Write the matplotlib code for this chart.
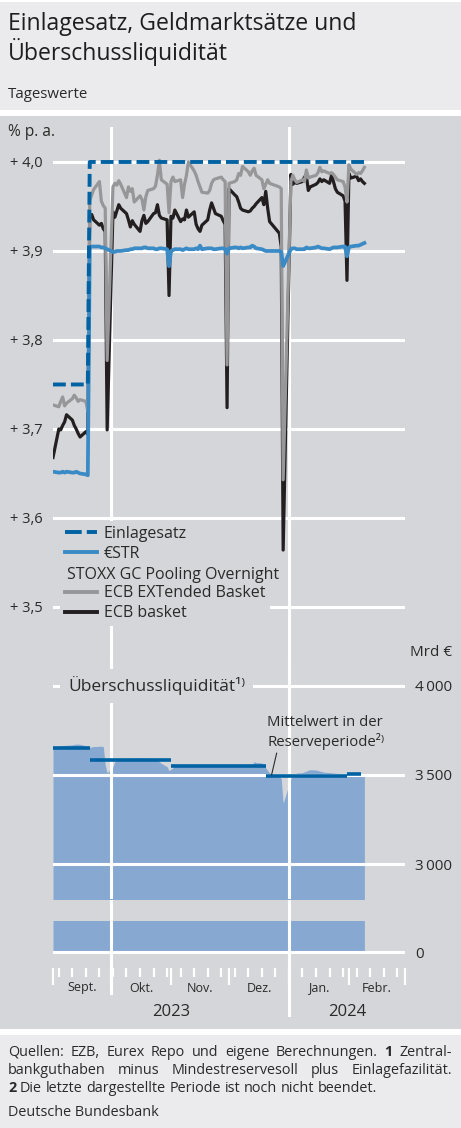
import matplotlib
matplotlib.use("Agg")
import matplotlib.pyplot as plt
import matplotlib.dates as mdates
import matplotlib.transforms as mtrans
from matplotlib.lines import Line2D
from matplotlib.patches import Rectangle
import pandas as pd

W, H = 461, 1128

# ---- data (TARGET business days Sep 1 2023 - Feb 9 2024) ----
holidays = ["2023-12-25", "2023-12-26", "2024-01-01"]

# ECB EXTended Basket, % p.a.
ext_sep = [3.727, 3.725, 3.731, 3.736, 3.726, 3.729, 3.734, 3.738, 3.735, 3.731, 3.733, 3.731, 3.720,
           3.957, 3.963, 3.969, 3.978, 3.956, 3.951, 3.948, 3.777]
ext_oct = [3.972, 3.976, 3.974, 3.979, 3.975, 3.960, 3.972, 3.967, 3.970, 3.955, 3.962, 3.958, 3.946,
           3.961, 3.968, 3.970, 3.973, 3.985, 4.002, 3.980, 3.975, 3.943]
ext_nov = [3.978, 3.983, 3.978, 3.980, 3.960, 3.975, 3.985, 4.000, 3.990, 3.985, 3.978, 3.972, 3.966,
           3.965, 3.968, 3.976, 3.980, 3.981, 3.983, 3.980, 3.978, 3.772]
ext_dec = [3.976, 3.978, 3.980, 3.987, 3.985, 3.995, 3.989, 3.985, 3.990, 3.993, 3.985, 3.980, 3.970,
           3.975, 3.980, 3.976, 3.972, 3.970, 3.643]
ext_jan = [3.978, 3.985, 3.980, 3.977, 3.980, 3.978, 3.991, 3.982, 3.983, 3.985, 3.988, 3.994, 3.989,
           3.990, 3.987, 3.988, 3.986, 3.983, 3.980, 3.978, 3.972, 3.955]
ext_feb = [3.997, 3.992, 3.986, 3.988, 3.987, 3.990, 3.994]

# ECB basket, % p.a.
bsk_sep = [3.668, 3.700, 3.699, 3.704, 3.708, 3.716, 3.710, 3.704, 3.700, 3.695, 3.691, 3.697, 3.694,
           3.939, 3.941, 3.935, 3.929, 3.931, 3.925, 3.922, 3.699]
bsk_oct = [3.944, 3.938, 3.945, 3.952, 3.948, 3.942, 3.935, 3.927, 3.934, 3.930, 3.922, 3.934, 3.940,
           3.931, 3.933, 3.942, 3.943, 3.952, 3.940, 3.937, 3.935, 3.850]
bsk_nov = [3.939, 3.937, 3.946, 3.933, 3.936, 3.935, 3.946, 3.938, 3.944, 3.930, 3.925, 3.922, 3.929,
           3.935, 3.946, 3.954, 3.948, 3.942, 3.939, 3.934, 3.930, 3.724]
bsk_dec = [3.970, 3.963, 3.961, 3.955, 3.948, 3.946, 3.944, 3.945, 3.948, 3.950, 3.953, 3.960, 3.952,
           3.967, 3.948, 3.933, 3.920, 3.905, 3.564]
bsk_jan = [3.986, 3.975, 3.977, 3.976, 3.978, 3.983, 3.985, 3.968, 3.972, 3.975, 3.977, 3.981, 3.978,
           3.980, 3.976, 3.985, 3.978, 3.970, 3.966, 3.962, 3.956, 3.867]
bsk_feb = [3.987, 3.982, 3.984, 3.979, 3.981, 3.978, 3.976]

# €STR, % p.a.
estr_sep = [3.652, 3.651, 3.651, 3.652, 3.651, 3.652, 3.651, 3.651, 3.652, 3.651, 3.650, 3.649, 3.648,
            3.904, 3.905, 3.905, 3.905, 3.904, 3.904, 3.903, 3.902]
estr_oct = [3.899, 3.899, 3.900, 3.900, 3.900, 3.901, 3.901, 3.902, 3.902, 3.903, 3.903, 3.903, 3.904,
            3.904, 3.903, 3.903, 3.902, 3.902, 3.903, 3.903, 3.902, 3.883]
estr_nov = [3.900, 3.901, 3.902, 3.902, 3.901, 3.902, 3.903, 3.902, 3.902, 3.903, 3.902, 3.906, 3.902,
            3.903, 3.903, 3.903, 3.902, 3.902, 3.903, 3.903, 3.902, 3.897]
estr_dec = [3.903, 3.904, 3.904, 3.903, 3.904, 3.903, 3.904, 3.904, 3.906, 3.905, 3.903, 3.902, 3.901,
            3.900, 3.900, 3.900, 3.900, 3.899, 3.883]
estr_jan = [3.902, 3.903, 3.903, 3.902, 3.902, 3.902, 3.904, 3.903, 3.903, 3.904, 3.905, 3.904, 3.903,
            3.903, 3.902, 3.903, 3.904, 3.904, 3.904, 3.905, 3.905, 3.894]
estr_feb = [3.904, 3.905, 3.906, 3.906, 3.907, 3.908, 3.909]

# Einlagesatz (deposit facility rate)
einlage_dates = ["2023-09-01", "2023-09-19", "2023-09-20", "2024-02-09"]
einlage_vals = [3.75, 3.75, 4.00, 4.00]

# Überschussliquidität, Mrd €
liq_sep = [3659, 3661, 3663, 3665, 3666, 3667, 3669, 3672, 3673, 3674, 3672, 3664, 3652,
           3655, 3658, 3660, 3661, 3662, 3660, 3556, 3511]
liq_oct = [3547, 3575, 3582, 3585, 3588, 3590, 3591, 3592, 3593, 3594, 3596, 3595, 3594,
           3594, 3593, 3590, 3588, 3583, 3575, 3565, 3547, 3524]
liq_nov = [3532, 3540, 3550, 3551, 3552, 3552, 3551, 3550, 3548, 3549, 3550, 3550, 3549,
           3548, 3547, 3548, 3550, 3551, 3552, 3552, 3552, 3551]
liq_dec = [3552, 3553, 3553, 3554, 3555, 3556, 3557, 3558, 3560, 3575, 3570, 3568, 3557,
           3540, 3525, 3511, 3491, 3480, 3341]
liq_jan = [3480, 3500, 3505, 3511, 3513, 3518, 3522, 3527, 3530, 3528, 3525, 3522, 3520,
           3516, 3514, 3512, 3511, 3510, 3509, 3508, 3505, 3500]
liq_feb = [3503, 3504, 3501, 3499, 3496, 3494, 3491]

# mean per reserve maintenance period
per_start = ["2023-09-01", "2023-09-20", "2023-11-01", "2023-12-20", "2024-01-31"]
per_end = ["2023-09-20", "2023-11-01", "2023-12-20", "2024-01-31", "2024-02-07"]
per_mean = [3654, 3584, 3550, 3494, 3505]

rate_ticks = [3.5, 3.6, 3.7, 3.8, 3.9, 4.0]
rate_labels = ["+ 3,5", "+ 3,6", "+ 3,7", "+ 3,8", "+ 3,9", "+ 4,0"]
liq_ticks = [3000, 3500, 4000]
liq_labels = ["3\u2009000", "3\u2009500", "4\u2009000"]
months = ["Sept.", "Okt.", "Nov.", "Dez.", "Jan.", "Febr."]
month_starts = ["2023-09-01", "2023-10-01", "2023-11-01", "2023-12-01", "2024-01-01", "2024-02-01", "2024-03-01"]

# ---- build series ----
days = pd.bdate_range("2023-09-01", "2024-02-09")
days = days[~days.isin(pd.to_datetime(holidays))]
ext = ext_sep + ext_oct + ext_nov + ext_dec + ext_jan + ext_feb
bsk = bsk_sep + bsk_oct + bsk_nov + bsk_dec + bsk_jan + bsk_feb
estr = estr_sep + estr_oct + estr_nov + estr_dec + estr_jan + estr_feb
liq = liq_sep + liq_oct + liq_nov + liq_dec + liq_jan + liq_feb

plt.rcParams['font.family'] = ['Open Sans', 'DejaVu Sans']

BG_LIGHT = '#ebebed'
BG_CHART = '#d5d6d9'
TXT = '#2a2a2a'
C_EZ = '#0062a3'
C_ESTR = '#3a8ac6'
C_EXT = '#97979a'
C_BSK = '#231f20'
C_AREA = '#87a9d1'
GRID = dict(color='white', lw=2.2)

x0, x1 = pd.Timestamp("2023-09-01"), pd.Timestamp("2024-03-01")
oct1, jan1 = pd.Timestamp("2023-10-01"), pd.Timestamp("2024-01-01")

fig = plt.figure(figsize=(W / 100, H / 100), dpi=100)


def box(px0, py0, px1, py1):
    return [px0 / W, 1 - py1 / H, (px1 - px0) / W, (py1 - py0) / H]


def fx(px):
    return px / W


def fy(py):
    return 1 - py / H


for y0, y1, c in [(2, 110, BG_LIGHT), (116, 1029, BG_CHART), (1035, 1128, BG_LIGHT)]:
    fig.patches.append(Rectangle((0, fy(y1)), 1, (y1 - y0) / H, transform=fig.transFigure,
                                 facecolor=c, edgecolor='none', zorder=-10))

# vertical grid lines running through the whole chart block
bg = fig.add_axes(box(53, 127, 405, 1017), zorder=0)
bg.axis('off')
bg.patch.set_visible(False)
bg.set_xlim(x0, x1)
bg.set_ylim(0, 1)
bg.axvline(oct1, ymin=(1017 - 993) / 890, **GRID)
bg.axvline(jan1, **GRID)

# ---- upper panel: rates ----
ax = fig.add_axes(box(53, 127, 405, 645), zorder=1)
ax.patch.set_visible(False)
for s in ax.spines.values():
    s.set_visible(False)
ax.set_xlim(x0, x1)
ax.set_ylim(3.4573, 4.0393)
for v in rate_ticks:
    ax.axhline(v, zorder=1, **GRID)
ax.plot(days, bsk, color=C_BSK, lw=2.3, zorder=3)
ax.plot(days, ext, color=C_EXT, lw=2.3, zorder=4)
ax.plot(days, estr, color=C_ESTR, lw=2.7, zorder=5)
ax.plot(pd.to_datetime(einlage_dates), einlage_vals, color=C_EZ, lw=2.8,
        ls=(0, (3.3, 1.3)), zorder=6)
ax.set_xticks([])
ax.set_yticks(rate_ticks)
ax.set_yticklabels(rate_labels)
ax.tick_params(axis='y', length=0, pad=7.2, labelsize=10.5, labelcolor=TXT)

handles = [Line2D([], [], color=C_EZ, lw=2.8, ls=(0, (4.3, 1.3))),
           Line2D([], [], color=C_ESTR, lw=2.8),
           Line2D([], [], lw=0),
           Line2D([], [], color=C_EXT, lw=2.8),
           Line2D([], [], color=C_BSK, lw=2.8)]
labels = ["Einlagesatz", "€STR", " ", "ECB EXTended Basket", "ECB basket"]
leg = ax.legend(handles, labels, loc='upper left', bbox_to_anchor=(fx(60), fy(521)),
                bbox_transform=fig.transFigure, frameon=True, facecolor=BG_CHART,
                edgecolor='none', framealpha=1, fancybox=False, borderpad=0.3,
                borderaxespad=0, handlelength=2.0, handletextpad=0.45, labelspacing=0.24,
                fontsize=11.5)
for t in leg.get_texts():
    t.set_color(TXT)
fig.text(fx(67), fy(575), "STOXX GC Pooling Overnight", fontsize=11.5, color=TXT, va='center')

# ---- lower panel: excess liquidity (broken axis) ----
bu = fig.add_axes(box(53, 660, 405, 899), zorder=1)
bl = fig.add_axes(box(53, 921, 405, 968), zorder=1)
bu.set_ylim(2803.4, 4146)
bl.set_ylim(-89.9, 174.2)
for a in (bu, bl):
    a.patch.set_visible(False)
    for s in a.spines.values():
        s.set_visible(False)
    a.set_xlim(x0, x1)
    a.fill_between(days, 0, liq, color=C_AREA, lw=0, zorder=1)
    a.axvline(oct1, zorder=2, **GRID)
    a.axvline(jan1, zorder=2, **GRID)
    a.yaxis.tick_right()
    a.tick_params(axis='y', length=0, pad=7.2, labelsize=11, labelcolor=TXT)
for v in liq_ticks:
    bu.axhline(v, zorder=2, **GRID)
bl.axhline(0, zorder=2, **GRID)
bu.hlines(per_mean, pd.to_datetime(per_start), pd.to_datetime(per_end), color=C_EZ, lw=2.6,
          zorder=3, capstyle='butt')
bu.set_yticks(liq_ticks)
bu.set_yticklabels(liq_labels)
bu.set_xticks([])
bl.set_yticks([0])
bl.set_yticklabels(["0"])

bl.xaxis.set_major_locator(mdates.MonthLocator())
bl.xaxis.set_minor_locator(mdates.WeekdayLocator(byweekday=mdates.MO))
bl.tick_params(axis='x', which='major', length=12.2, width=1.6, color='white', labelbottom=False)
bl.tick_params(axis='x', which='minor', length=6.5, width=1.6, color='white', labelbottom=False)

trans = mtrans.blended_transform_factory(bl.transData, fig.transFigure)
ms = pd.to_datetime(month_starts)
for i, m in enumerate(months):
    mid = ms[i] + (ms[i + 1] - ms[i]) / 2
    bl.text(mid, fy(988), m, transform=trans, ha='center', va='center', fontsize=9, color=TXT)
bl.text(ms[0] + (jan1 - ms[0]) / 2, fy(1012), "2023", transform=trans, ha='center', va='center',
        fontsize=12, color=TXT)
bl.text(jan1 + (ms[-1] - jan1) / 2, fy(1012), "2024", transform=trans, ha='center', va='center',
        fontsize=12, color=TXT)

fig.text(fx(68), fy(686), "Überschussliquidität¹⁾", fontsize=12.5, color=TXT, va='center',
         bbox=dict(boxstyle='square,pad=0.45', facecolor=BG_CHART, edgecolor='none'))
fig.text(fx(267), fy(722), "Mittelwert in der", fontsize=10.7, color=TXT, va='center')
fig.text(fx(267), fy(741), "Reserveperiode²⁾", fontsize=10.7, color=TXT, va='center')
bu.annotate("", xy=(pd.Timestamp("2023-12-23"), 3500), xytext=(fx(276.7), fy(753)),
            textcoords='figure fraction',
            arrowprops=dict(arrowstyle='-', color=TXT, lw=0.8, shrinkA=0, shrinkB=0))

# ---- titles and notes ----
fig.text(fx(8), fy(30), "Einlagesatz, Geldmarktsätze und", fontsize=16.6, color='#1e1e1e', va='baseline')
fig.text(fx(8), fy(60), "Überschussliquidität", fontsize=16.6, color='#1e1e1e', va='baseline')
fig.text(fx(8), fy(95), "Tageswerte", fontsize=10.8, color=TXT, va='center')
fig.text(fx(8), fy(132), "% p. a.", fontsize=11.2, color=TXT, va='center')
fig.text(fx(452), fy(652), "Mrd €", fontsize=11, color=TXT, va='center', ha='right')

renderer = fig.canvas.get_renderer()


def note_line(tokens, py, justify, size=10.4):
    texts = [fig.text(0, fy(py), w, fontsize=size, fontweight=wt, color=TXT, va='baseline')
             for w, wt in tokens]
    widths = [t.get_window_extent(renderer).width for t in texts]
    gap = (452 - 8 - sum(widths)) / (len(texts) - 1) if justify else size * 100 / 72 * 0.26
    x = 8
    for t, w in zip(texts, widths):
        t.set_x(fx(x))
        x += w + gap


n = 'normal'
b = 'bold'
note_line([(w, n) for w in "Quellen: EZB, Eurex Repo und eigene Berechnungen.".split()]
          + [("1", b), ("Zentral-", n)], 1056, True)
note_line([(w, n) for w in "bankguthaben minus Mindestreservesoll plus Einlagefazilität.".split()],
          1074, True)
note_line([("2", b)] + [(w, n) for w in "Die letzte dargestellte Periode ist noch nicht beendet.".split()],
          1092, False)
fig.text(fx(8), fy(1116), "Deutsche Bundesbank", fontsize=10.4, color=TXT, va='baseline')

fig.savefig("out.png", dpi=100)
